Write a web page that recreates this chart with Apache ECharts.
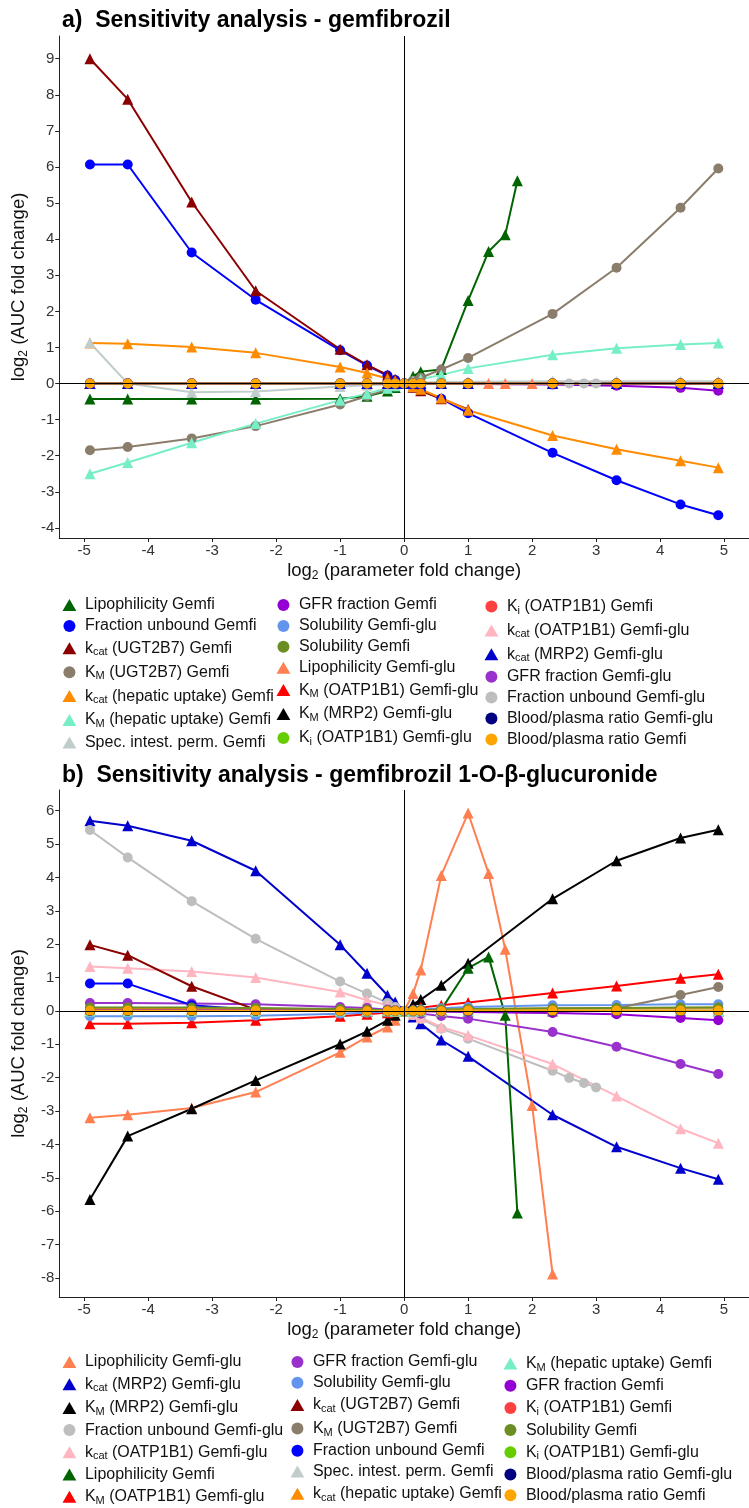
<!DOCTYPE html>
<html><head><meta charset="utf-8">
<script src="https://cdn.jsdelivr.net/npm/echarts@6/dist/echarts.min.js"></script>
<style>html,body{margin:0;padding:0;background:#fff}#c{width:749px;height:1508px}</style>
</head><body><div id="c"></div><script>
// ---------- x positions (log2 parameter fold change) ----------
const X_STD = [-4.91,-4.32,-3.32,-2.32,-1,-0.58,-0.26,-0.14,0,0.14,0.26,0.58,1,2.32,3.32,4.32,4.91];
const X_LIPO_GEMFI = [-4.91,-4.32,-3.32,-2.32,-1,-0.58,-0.26,-0.14,0,0.14,0.26,0.58,1,1.32,1.58,1.77];
const X_LIPO_GLU = [-4.91,-4.32,-3.32,-2.32,-1,-0.58,-0.26,-0.14,0,0.14,0.26,0.58,1,1.32,1.58,2,2.32];
const X_FU_GLU = [-4.91,-4.32,-3.32,-2.32,-1,-0.58,-0.26,-0.14,0,0.14,0.26,0.58,1,2.32,2.58,2.81,3];

// ---------- series ----------
const NAMES = ['Lipophilicity Gemfi','Fraction unbound Gemfi','kcat (UGT2B7) Gemfi','KM (UGT2B7) Gemfi',
 'kcat (hepatic uptake) Gemfi','KM (hepatic uptake) Gemfi','Spec. intest. perm. Gemfi','GFR fraction Gemfi',
 'Solubility Gemfi-glu','Solubility Gemfi','Lipophilicity Gemfi-glu','KM (OATP1B1) Gemfi-glu','KM (MRP2) Gemfi-glu',
 'Ki (OATP1B1) Gemfi-glu','Ki (OATP1B1) Gemfi','kcat (OATP1B1) Gemfi-glu','kcat (MRP2) Gemfi-glu',
 'GFR fraction Gemfi-glu','Fraction unbound Gemfi-glu','Blood/plasma ratio Gemfi-glu','Blood/plasma ratio Gemfi'];
const COLORS = ['#006400','#0000FF','#8B0000','#8B7D6B','#FF8C00','#76EEC6','#C1CDCD','#9400D3',
 '#6495ED','#6B8E23','#FF7F50','#FF0000','#000000','#66CD00','#FF4040','#FFB6C1','#0000CD',
 '#9932CC','#BEBEBE','#000080','#FFA500'];
const SHAPES = ['tri','circ','tri','circ','tri','tri','tri','circ','circ','circ','tri','tri','tri',
 'circ','circ','tri','tri','circ','circ','circ','circ'];
const SERIES_X = [X_LIPO_GEMFI,X_STD,X_STD,X_STD,X_STD,X_STD,X_STD,X_STD,X_STD,X_STD,X_LIPO_GLU,X_STD,X_STD,
 X_STD,X_STD,X_STD,X_STD,X_STD,X_FU_GLU,X_STD,X_STD];

// ---------- panel a: log2 AUC fold change of gemfibrozil ----------
const a_lipoGemfi = [-0.43,-0.43,-0.43,-0.43,-0.42,-0.35,-0.21,-0.11,0,0.2,0.33,0.39,2.3,3.66,4.12,5.62];
const a_fuGemfi   = [6.07,6.07,3.63,2.32,0.92,0.5,0.22,0.1,0,-0.1,-0.18,-0.42,-0.82,-1.92,-2.68,-3.35,-3.65];
const a_kcatUGT   = [9.0,7.88,5.03,2.57,0.95,0.52,0.24,0.12,0,-0.1,-0.2,-0.42,-0.72];
const a_kmUGT     = [-1.85,-1.76,-1.52,-1.18,-0.58,-0.35,-0.16,-0.08,0,0.08,0.16,0.39,0.71,1.93,3.21,4.87,5.96];
const a_kcatHep   = [1.12,1.1,1.01,0.85,0.46,0.29,0.14,0.07,0,-0.08,-0.16,-0.4,-0.74,-1.44,-1.82,-2.14,-2.33];
const a_kmHep     = [-2.5,-2.19,-1.64,-1.11,-0.46,-0.28,-0.13,-0.06,0,0.06,0.12,0.24,0.42,0.8,0.98,1.08,1.12];
const a_specPerm  = [1.13,0.0,-0.24,-0.22,-0.08,-0.05,-0.02,-0.01,0,0.02,0.03,0.04,0.05,0.06,0.06,0.06,0.06];
const a_gfrGemfi  = [0.01,0.01,0.01,0.01,0.01,0,0,0,0,0,0,-0.01,-0.01,-0.03,-0.06,-0.12,-0.2];
const a_flat      = [0,0,0,0,0,0,0,0,0,0,0,0,0,0,0,0,0];
const A_Y = [a_lipoGemfi,a_fuGemfi,a_kcatUGT,a_kmUGT,a_kcatHep,a_kmHep,a_specPerm,a_gfrGemfi,
 a_flat,a_flat,a_flat,a_flat,a_flat,a_flat,a_flat,a_flat,a_flat,a_flat,a_flat,a_flat,a_flat];

// ---------- panel b: log2 AUC fold change of gemfibrozil 1-O-beta-glucuronide ----------
const b_lipoGemfi = [0,0,0,0,0,0,0,0,0,0.01,0.02,0.04,1.28,1.62,-0.13,-6.05];
const b_fuGemfi   = [0.82,0.82,0.17,0.03,0.01,0,0,0,0,0,0,0,0,0,0,0,0];
const b_kcatUGT   = [1.98,1.67,0.74,0.04,0.01,0,0,0,0,0,0,0,0,0,0,0,0];
const b_kmUGT     = [0.02,0.02,0.02,0.02,0.01,0,0,0,0,0,0,-0.01,-0.02,-0.05,0.08,0.48,0.72];
const b_kcatHep   = [0.06,0.06,0.06,0.05,0.03,0.02,0.01,0,0,0.01,0.02,0.03,0.05,0.07,0.08,0.09,0.1];
const b_kmHep     = [0,0,0,0,0,0,0,0,0,0,0,0,0,0,0,0,0];
const b_specPerm  = [0.04,0.04,0.04,0.03,0.02,0.01,0.01,0,0,0,0.01,0.02,0.03,0.04,0.05,0.05,0.05];
const b_gfrGemfi  = [0.03,0.03,0.03,0.03,0.02,0.01,0,0,0,-0.01,-0.01,-0.02,-0.03,-0.06,-0.1,-0.21,-0.28];
const b_solGlu    = [-0.16,-0.16,-0.16,-0.14,-0.08,-0.05,-0.02,-0.01,0,0.02,0.04,0.08,0.12,0.17,0.18,0.2,0.2];
const b_solGemfi  = [0.1,0.1,0.1,0.09,0.06,0.04,0.02,0.01,0,0.01,0.02,0.04,0.06,0.08,0.09,0.1,0.1];
const b_lipoGlu   = [-3.2,-3.11,-2.91,-2.43,-1.24,-0.78,-0.48,-0.28,0,0.52,1.23,4.06,5.93,4.12,1.85,-2.83,-7.88];
const b_kmOATPglu = [-0.38,-0.38,-0.35,-0.28,-0.16,-0.1,-0.05,-0.02,0,0.05,0.1,0.17,0.25,0.54,0.75,0.98,1.1];
const b_kmMRP2glu = [-5.65,-3.75,-2.93,-2.08,-0.99,-0.61,-0.28,-0.13,0,0.2,0.34,0.77,1.43,3.36,4.5,5.18,5.43];
const b_kiGlu     = [0,0,0,0,0,0,0,0,0,0,0,0,0,0,0,0,0];
const b_kiGemfi   = [0,0,0,0,0,0,0,0,0,0,0,0,0,0,0,0,0];
const b_kcatOATPglu = [1.33,1.28,1.18,1.0,0.57,0.32,0.17,0.08,0,-0.1,-0.2,-0.48,-0.73,-1.59,-2.55,-3.53,-3.96];
const b_kcatMRP2glu = [5.7,5.55,5.1,4.2,1.98,1.13,0.47,0.27,0,-0.18,-0.38,-0.87,-1.36,-3.11,-4.07,-4.71,-5.04];
const b_gfrGlu    = [0.24,0.24,0.22,0.2,0.12,0.09,0.04,0.02,0,-0.04,-0.08,-0.15,-0.23,-0.63,-1.07,-1.59,-1.89];
const b_fuGlu     = [5.42,4.6,3.29,2.16,0.88,0.52,0.24,0.12,0,-0.12,-0.24,-0.53,-0.83,-1.79,-2.01,-2.16,-2.29];
const b_bpGlu     = [0,0,0,0,0,0,0,0,0,0,0,0,0,0,0,0,0];
const b_bpGemfi   = [0.01,0.01,0.01,0.01,0,0,0,0,0,0,0,0,0.01,0.01,0.01,0.01,0.01];
const B_Y = [b_lipoGemfi,b_fuGemfi,b_kcatUGT,b_kmUGT,b_kcatHep,b_kmHep,b_specPerm,b_gfrGemfi,
 b_solGlu,b_solGemfi,b_lipoGlu,b_kmOATPglu,b_kmMRP2glu,b_kiGlu,b_kiGemfi,b_kcatOATPglu,b_kcatMRP2glu,
 b_gfrGlu,b_fuGlu,b_bpGlu,b_bpGemfi];

// ---------- legend / draw order (indices into NAMES) ----------
const A_LEGEND_COLS = [[0,1,2,3,4,5,6],[7,8,9,10,11,12,13],[14,15,16,17,18,19,20]];
const B_LEGEND_COLS = [[10,16,12,18,15,0,11],[17,8,2,3,1,6,4],[5,7,14,9,13,19,20]];
const X_TICKS = [-5,-4,-3,-2,-1,0,1,2,3,4,5];
const A_Y_TICKS = [-4,-3,-2,-1,0,1,2,3,4,5,6,7,8,9];
const B_Y_TICKS = [-8,-7,-6,-5,-4,-3,-2,-1,0,1,2,3,4,5,6];

// ---------- rendering ----------
const FONT = 'Liberation Sans, Arial, sans-serif';
const TRI = 'path://M6,0 L12,10.4 L0,10.4 Z';
function richName(name){
  let m;
  if ((m = name.match(/^kcat(.*)$/))) return '{n|k}{s|cat}{n|' + m[1] + '}';
  if ((m = name.match(/^KM(.*)$/))) return '{n|K}{s|M}{n|' + m[1] + '}';
  if ((m = name.match(/^Ki(.*)$/))) return '{n|K}{s|i}{n|' + m[1] + '}';
  return '{n|' + name + '}';
}
const LEG_RICH = {
  n:{fontSize:16, lineHeight:18, color:'#111', fontFamily:FONT},
  s:{fontSize:11, lineHeight:10, padding:[8,0,0,0], color:'#111', fontFamily:FONT}
};
const AXN_RICH = {
  n:{fontSize:18.5, lineHeight:22, color:'#111', fontFamily:FONT},
  s:{fontSize:12, lineHeight:12, padding:[10,0,0,0], color:'#111', fontFamily:FONT}
};
function mkLegend(idxs, left, top, gap){
  return {orient:'vertical', left:left, top:top, itemGap:gap, itemWidth:21, itemHeight:12,
    symbolKeepAspect:true, selectedMode:false, padding:0,
    data: idxs.map(i => ({name:NAMES[i], icon: SHAPES[i]==='tri' ? TRI : 'circle'})),
    formatter: richName, textStyle:{rich:LEG_RICH, fontFamily:FONT}};
}
function mkX(gridIndex){
  return {type:'value', gridIndex, min:-5.39, max:5.39,
    name:'{n|log}{s|2}{n| (parameter fold change)}', nameLocation:'middle', nameGap:22,
    nameTextStyle:{rich:AXN_RICH},
    axisLine:{onZero:false, lineStyle:{color:'#222', width:1}},
    axisTick:{customValues:X_TICKS, length:4, lineStyle:{color:'#222'}},
    axisLabel:{customValues:X_TICKS, fontSize:15, color:'#333', fontFamily:FONT, margin:5},
    splitLine:{show:false}};
}
function mkY(gridIndex, min, max, ticks){
  return {type:'value', gridIndex, min, max,
    name:'{n|log}{s|2}{n| (AUC fold change)}', nameLocation:'middle', nameGap:21, nameRotate:90,
    nameTextStyle:{rich:AXN_RICH},
    axisLine:{onZero:false, lineStyle:{color:'#222', width:1}},
    axisTick:{customValues:ticks, length:4, lineStyle:{color:'#222'}},
    axisLabel:{customValues:ticks, fontSize:15, color:'#333', fontFamily:FONT, margin:5},
    splitLine:{show:false}};
}
function pairs(xs, ys){ return ys.map((y,i)=>[xs[i], y]); }
function mkSeries(i, ys, ax){
  return {type:'line', name:NAMES[i], xAxisIndex:ax, yAxisIndex:ax,
    data: pairs(SERIES_X[i], ys[i]),
    symbol: SHAPES[i]==='tri' ? 'triangle' : 'circle',
    symbolSize: SHAPES[i]==='tri' ? 11 : 10,
    showSymbol:true, showAllSymbol:true,
    lineStyle:{color:COLORS[i], width:2}, itemStyle:{color:COLORS[i]},
    emphasis:{disabled:true}, animation:false};
}
const zeroLines = {silent:true, symbol:'none', label:{show:false}, animation:false,
  lineStyle:{color:'#000', width:1, type:'solid'}, data:[{xAxis:0},{yAxis:0}]};

const series = [];
A_LEGEND_COLS.flat().forEach(i => series.push(mkSeries(i, A_Y, 0)));
series[series.length-1].markLine = zeroLines;
B_LEGEND_COLS.flat().forEach(i => series.push(mkSeries(i, B_Y, 1)));
series[series.length-1].markLine = zeroLines;

const chart = echarts.init(document.getElementById('c'), null, {renderer:'canvas'});
chart.setOption({
  animation:false,
  textStyle:{fontFamily:FONT},
  title:[
    {text:'a)  Sensitivity analysis - gemfibrozil', left:57, top:4,
     textStyle:{fontSize:23, fontWeight:'bold', color:'#000', fontFamily:FONT}},
    {text:'b)  Sensitivity analysis - gemfibrozil 1-O-\u03B2-glucuronide', left:57, top:759,
     textStyle:{fontSize:23, fontWeight:'bold', color:'#000', fontFamily:FONT}}
  ],
  grid:[
    {left:59, top:36, width:698.5, height:502},
    {left:59, top:790, width:698.5, height:507}
  ],
  xAxis:[mkX(0), mkX(1)],
  yAxis:[mkY(0,-4.28,9.63,A_Y_TICKS), mkY(1,-8.57,6.62,B_Y_TICKS)],
  legend:[
    mkLegend(A_LEGEND_COLS[0], 62.5, 597, 4.9),
    mkLegend(A_LEGEND_COLS[1], 276.5, 597, 4.9),
    mkLegend(A_LEGEND_COLS[2], 484.5, 597, 4.9),
    mkLegend(B_LEGEND_COLS[0], 62.5, 1354, 4.7),
    mkLegend(B_LEGEND_COLS[1], 290.5, 1354, 4.7),
    mkLegend(B_LEGEND_COLS[2], 503.5, 1354, 4.7)
  ],
  series
});
</script></body></html>
